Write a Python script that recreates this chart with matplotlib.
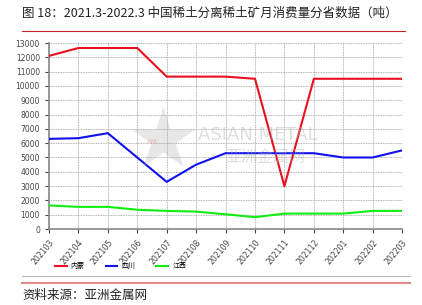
import matplotlib.pyplot as plt
from matplotlib.lines import Line2D

plt.rcParams['font.family'] = ['Noto Sans CJK SC', 'DejaVu Sans']

months = ['202103', '202104', '202105', '202106', '202107', '202108', '202109',
          '202110', '202111', '202112', '202201', '202202', '202203']
neimeng = [12100, 12650, 12650, 12650, 10650, 10650, 10650, 10500, 3000,
           10500, 10500, 10500, 10500]
sichuan = [6300, 6350, 6700, 5000, 3300, 4500, 5300, 5300, 5300, 5300,
           5000, 5000, 5500]
jiangxi = [1650, 1550, 1550, 1350, 1270, 1220, 1030, 830, 1080, 1080,
           1080, 1270, 1270]

fig = plt.figure(figsize=(4.22, 3.05), dpi=100)
ax = fig.add_axes([0.116, 0.249, 0.837, 0.61])

x = range(len(months))
ax.plot(x, neimeng, color='#e8101e', lw=1.5, label='内蒙', zorder=3)
ax.plot(x, sichuan, color='#1010f0', lw=1.5, label='四川', zorder=3)
ax.plot(x, jiangxi, color='#10ee10', lw=1.5, label='江西', zorder=3)

ax.set_xlim(0, len(months) - 1)
ax.set_ylim(0, 13000)
ax.set_yticks(range(0, 13001, 1000))
ax.set_xticks(list(x))
ax.set_xticklabels(months, rotation=50, ha='right', rotation_mode='anchor',
                   fontsize=5.6, color='#444444', family='DejaVu Sans')
ax.tick_params(axis='y', labelsize=5.5, colors='#444444', length=3, width=0.8)
ax.tick_params(axis='x', length=3, width=0.8, colors='#444444')
for lbl in ax.get_yticklabels():
    lbl.set_family('DejaVu Sans')

ax.grid(True, color='#9a9a9a', ls=(0, (1, 1)), lw=0.6)
ax.set_axisbelow(True)
for s in ['top', 'right']:
    ax.spines[s].set_visible(False)
ax.spines['left'].set_color('#888888')
ax.spines['left'].set_linewidth(1.2)
ax.spines['bottom'].set_color('#888888')
ax.spines['bottom'].set_linewidth(1.2)

# watermark (star logo drawn as a marker, text on top)
fig.add_artist(Line2D([0.386], [0.545], marker='*', markersize=48, ls='none',
                      markerfacecolor='#b0b0b0', markeredgecolor='none',
                      alpha=0.3, transform=fig.transFigure))
fig.text(0.36, 0.535, 'AM', fontsize=5, color='#e06060', alpha=0.3,
         ha='center', va='center', family='DejaVu Sans')
fig.text(0.469, 0.557, 'ASIAN METAL', fontsize=13, color='#b0b0b0', alpha=0.4,
         ha='left', va='center', family='DejaVu Sans')
fig.text(0.533, 0.485, '亚洲金属网', fontsize=11.5, color='#b0b0b0', alpha=0.4,
         ha='left', va='center')

fig.legend(loc='center left', bbox_to_anchor=(0.115, 0.128), ncol=3,
           frameon=False, fontsize=5, handlelength=1.7, columnspacing=3.0,
           handletextpad=0.6)

fig.text(0.052, 0.955, '图 18：2021.3-2022.3 中国稀土分离稀土矿月消费量分省数据（吨）',
         fontsize=9, ha='left', va='center', color='#222222')
fig.add_artist(Line2D([0.052, 0.96], [0.897, 0.897], color='#c8202a', lw=0.8))
fig.add_artist(Line2D([0.052, 0.972], [0.095, 0.095], color='#bbbbbb', lw=0.8))
fig.add_artist(Line2D([0.052, 0.972], [0.072, 0.072], color='#e58a8a', lw=1.5))
fig.text(0.052, 0.032, '资料来源：亚洲金属网', fontsize=9, ha='left', va='center',
         color='#222222')

fig.savefig('out.png', dpi=100)
